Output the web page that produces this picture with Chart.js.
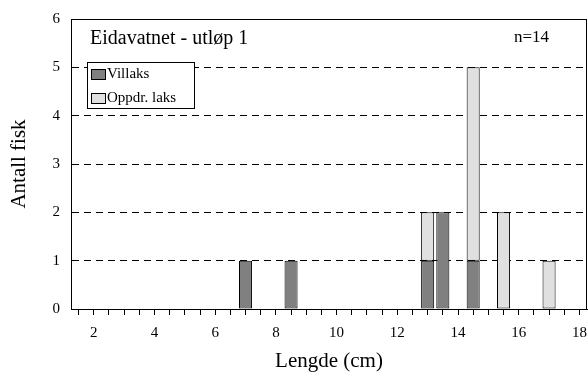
<!DOCTYPE html>
<html lang="no">
<head>
    <title>Eidavatnet - utløp 1</title>
    <script src="https://cdn.jsdelivr.net/npm/chart.js"></script>
    <style>
        html, body { margin: 0; padding: 0; background: #fff; }
        .chart-container { width: 588px; height: 374px; position: relative; }
        canvas { display: block; }
    </style>
</head>
<body>
    <div class="chart-container">
        <canvas id="myChart"></canvas>
    </div>

    <script>
        // length classes with fish (cm)
        const lengthBins = [7, 8.5, 13, 13.5, 14.5, 15.5, 17];
        const villaks = [1, 1, 1, 2, 1, 0, 0];
        const oppdrett = [0, 0, 1, 0, 4, 2, 1];
        const seriesNames = ["Villaks", "Oppdr. laks"];
        const yTicks = [0, 1, 2, 3, 4, 5, 6];

        // axis categories: 1.5 .. 18 in half cm steps
        const axisLabels = [];
        for (let v = 1.5; v <= 18; v += 0.5) axisLabels.push(String(v));

        function toPoints(counts) {
            return lengthBins.map((len, i) => ({ x: String(len), y: counts[i] }))
                .filter(p => p.y > 0);
        }

        Chart.defaults.font.family = "'Liberation Serif', 'Times New Roman', serif";
        Chart.defaults.color = "#000";

        // border, titles and legend box inside the plot
        const decor = {
            id: "decor",
            afterDraw(chart) {
                const { ctx, chartArea: a } = chart;
                ctx.save();
                ctx.strokeStyle = "#000";
                ctx.lineWidth = 1;
                ctx.strokeRect(a.left + 0.5, a.top + 0.5, a.right - a.left - 1, a.bottom - a.top);

                ctx.fillStyle = "#000";
                ctx.textBaseline = "middle";
                ctx.font = "20px 'Liberation Serif', serif";
                ctx.fillText("Eidavatnet - utløp 1", 90, 39);
                ctx.font = "17px 'Liberation Serif', serif";
                ctx.fillText("n=14", 514, 38);

                // legend
                ctx.fillStyle = "#fff";
                ctx.fillRect(87.5, 62.5, 107, 46);
                ctx.strokeRect(87.5, 62.5, 107, 46);
                ctx.font = "15px 'Liberation Serif', serif";
                chart.data.datasets.forEach((ds, i) => {
                    const y = 69.5 + i * 24;
                    ctx.fillStyle = ds.backgroundColor;
                    ctx.fillRect(91.5, y, 14, 10);
                    ctx.strokeRect(91.5, y, 14, 10);
                    ctx.fillStyle = "#000";
                    ctx.fillText(ds.label, 107, y + 5);
                });
                ctx.restore();
            }
        };

        const ctx = document.getElementById("myChart").getContext("2d");
        new Chart(ctx, {
            type: "bar",
            data: {
                labels: axisLabels,
                datasets: [{
                    label: seriesNames[0],
                    data: toPoints(villaks),
                    backgroundColor: "#808080",
                    borderColor: "#000",
                    borderWidth: 1,
                    borderSkipped: false
                }, {
                    label: seriesNames[1],
                    data: toPoints(oppdrett),
                    backgroundColor: "#e0e0e0",
                    borderColor: "#000",
                    borderWidth: 1,
                    borderSkipped: false
                }]
            },
            options: {
                responsive: true,
                maintainAspectRatio: false,
                animation: false,
                layout: { padding: { top: 19, right: 1, left: 0, bottom: 0 } },
                plugins: { legend: { display: false }, tooltip: { enabled: false } },
                datasets: { bar: { barPercentage: 0.86, categoryPercentage: 1 } },
                scales: {
                    x: {
                        stacked: true,
                        offset: true,
                        grid: {
                            offset: false,
                            drawOnChartArea: false,
                            drawTicks: true,
                            tickLength: 6,
                            color: "#000"
                        },
                        border: { color: "#000" },
                        ticks: {
                            autoSkip: false,
                            maxRotation: 0,
                            padding: 9,
                            font: { size: 15 },
                            callback: function (v) {
                                const n = Number(this.getLabelForValue(v));
                                return n % 2 === 0 ? String(n) : "";
                            }
                        },
                        title: {
                            display: true,
                            text: "Lengde (cm)",
                            font: { size: 21 },
                            padding: { top: 0, bottom: 0 }
                        },
                        afterFit: s => {
                            s.height = 65;
                            s.paddingLeft = 0;
                            s.paddingRight = 0;
                        }
                    },
                    y: {
                        stacked: true,
                        min: 0,
                        max: 6,
                        afterBuildTicks: s => { s.ticks = yTicks.map(v => ({ value: v })); },
                        grid: {
                            drawTicks: false,
                            color: "#000"
                        },
                        border: { color: "#000", dash: [7, 5] },
                        ticks: { padding: 11, font: { size: 15 } },
                        title: {
                            display: true,
                            text: "Antall fisk",
                            font: { size: 21 },
                            padding: { top: 7, bottom: 0 }
                        },
                        afterFit: s => {
                            s.width = 71;
                            s.paddingTop = 0;
                            s.paddingBottom = 0;
                        }
                    }
                }
            },
            plugins: [decor]
        });
    </script>
</body>
</html>
